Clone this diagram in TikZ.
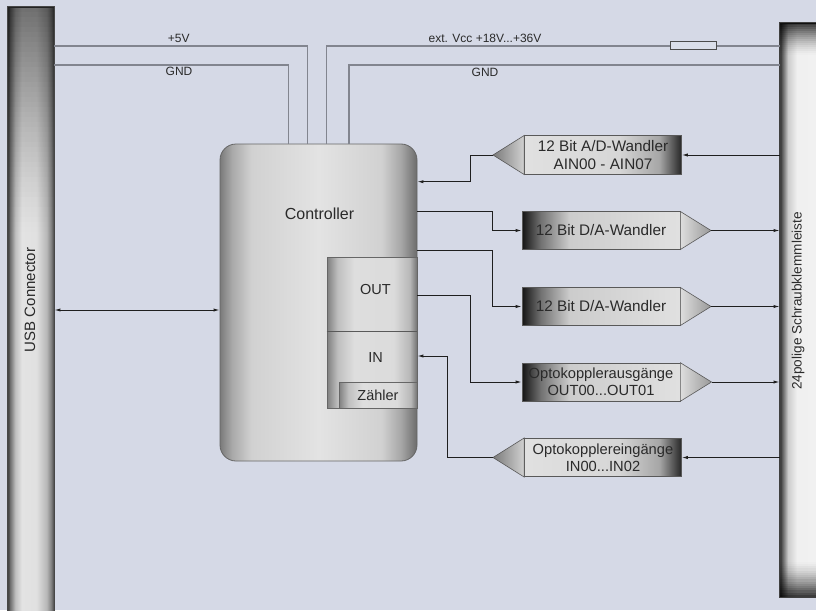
\documentclass[tikz,border=0pt]{standalone}
\usepackage{fontspec}
\setmainfont{Liberation Sans}
\usetikzlibrary{arrows.meta,calc}
\definecolor{bg}{HTML}{D5D9E6}
\definecolor{pwrc}{HTML}{82858F}
\definecolor{txt}{HTML}{2A2A2A}
\pgfdeclarehorizontalshading{ctrlshade}{100bp}{color(0bp)=(black!52); color(25bp)=(black!52); color(28bp)=(black!34); color(33bp)=(black!18); color(50bp)=(black!11); color(66bp)=(black!18); color(71bp)=(black!35); color(75bp)=(black!58); color(100bp)=(black!58)}
\pgfdeclarehorizontalshading{ioshade}{100bp}{color(0bp)=(black!50); color(25bp)=(black!50); color(31bp)=(black!25); color(40bp)=(black!13); color(62bp)=(black!14); color(71bp)=(black!28); color(75bp)=(black!55); color(100bp)=(black!55)}
\pgfdeclarehorizontalshading{lbarshade}{100bp}{color(0bp)=(black!78); color(25bp)=(black!78); color(27bp)=(black!58); color(33bp)=(black!25); color(40bp)=(black!11); color(56bp)=(black!12); color(67bp)=(black!28); color(72bp)=(black!50); color(75bp)=(black!72); color(100bp)=(black!72)}
\pgfdeclarehorizontalshading{rbarshade}{100bp}{color(0bp)=(black!82); color(25bp)=(black!82); color(27bp)=(black!65); color(33bp)=(black!20); color(42bp)=(black!6); color(75bp)=(black!5); color(100bp)=(black!5)}
\pgfdeclarehorizontalshading{outrectshade}{100bp}{color(0bp)=(black!92); color(25bp)=(black!92); color(31bp)=(black!55); color(40bp)=(black!20); color(75bp)=(black!12); color(100bp)=(black!12)}
\pgfdeclarehorizontalshading{inrectshade}{100bp}{color(0bp)=(black!12); color(25bp)=(black!12); color(55bp)=(black!16); color(68bp)=(black!35); color(75bp)=(black!85); color(100bp)=(black!85)}
\pgfdeclarehorizontalshading{outtrishade}{100bp}{color(0bp)=(black!13); color(25bp)=(black!13); color(75bp)=(black!40); color(100bp)=(black!40)}
\pgfdeclarehorizontalshading{intrishade}{100bp}{color(0bp)=(black!52); color(25bp)=(black!52); color(75bp)=(black!18); color(100bp)=(black!18)}
\tikzset{
  lbl/.style={font=\fontsize{12}{14}\selectfont, text=txt, inner sep=0pt},
  pwr/.style={draw=pwrc, line width=1.3pt},
  conn/.style={draw=black!88, line width=0.9pt},
  arr/.style={conn, -{Latex[length=6pt,width=3.2pt]}},
  darr/.style={conn, {Latex[length=6pt,width=3.2pt]}-{Latex[length=6pt,width=3.2pt]}},
  boxtxt/.style={font=\fontsize{15.3}{17.5}\selectfont, text=txt, align=center},
  optotxt/.style={font=\fontsize{14.7}{17.3}\selectfont},
  outrect/.style={draw=black!65, line width=0.6pt, shade, shading=outrectshade, minimum width=158pt, minimum height=37.5pt, inner sep=0pt, boxtxt},
  inrect/.style={draw=black!65, line width=0.6pt, shade, shading=inrectshade, minimum width=157pt, minimum height=38.5pt, inner sep=0pt, boxtxt},
  outtri/.style={draw=black!65, line width=0.6pt, shading=outtrishade},
  intri/.style={draw=black!65, line width=0.6pt, shading=intrishade},
}
\begin{document}
\begin{tikzpicture}[x=1pt,y=-1pt]
\useasboundingbox (0,0) rectangle (816,610);
\clip (0,0) rectangle (816,610);
\fill[bg] (0,0) rectangle (816,610);

% bars
\node[draw=black!72, line width=0.8pt, shade, shading=lbarshade, minimum width=46pt, minimum height=613pt, inner sep=0pt] (usb) at (31,313.5) {};
\foreach \i in {0,...,44} {
  \pgfmathsetmacro\op{0.5*(1-\i/45)^1.3}
  \fill[black, opacity=\op] (8,{7+\i*5}) rectangle (54,{12+\i*5});
}
\draw[black!72, line width=0.8pt] (usb.north west) rectangle (usb.south east);
\node[rotate=90, font=\fontsize{15}{17}\selectfont, text=txt, inner sep=0pt] (usbl) at (30,300) {USB Connector};

\node[draw=black!75, line width=0.8pt, shade, shading=rbarshade, minimum width=50pt, minimum height=574pt, inner sep=0pt] (rbar) at (805,310) {};
\foreach \i in {0,...,15} {
  \pgfmathsetmacro\op{0.75*(1-\i/16)^1.5}
  \fill[black, opacity=\op] (780,{23+\i*2}) rectangle (830,{25+\i*2});
  \fill[black, opacity=\op] (780,{597-\i*2.2}) rectangle (830,{594.8-\i*2.2});
}
\draw[black!75, line width=0.8pt] (rbar.north west) rectangle (rbar.south east);
\node[rotate=90, font=\fontsize{13.6}{16}\selectfont, text=txt, inner sep=0pt] (rbarl) at (798,301) {24polige Schraubklemmleiste};

% controller
\node[draw=black!60, line width=0.8pt, rounded corners=16pt, shade, shading=ctrlshade, minimum width=197pt, minimum height=317pt, inner sep=0pt] (ctrl) at (318.5,302.5) {};
\node[font=\fontsize{16}{18}\selectfont, text=txt] (ctrll) at (319.5,214) {Controller};
\node[draw=black!60, line width=0.7pt, shade, shading=ioshade, minimum width=90pt, minimum height=151pt, inner sep=0pt] (io) at (372,332.5) {};
\coordinate (div) at (0,331);
\draw[black!65, line width=0.7pt] (io.west |- div) -- (io.east |- div);
\node[font=\fontsize{14.5}{16}\selectfont, text=txt] (outl) at (375.5,290) {OUT};
\node[font=\fontsize{14.5}{16}\selectfont, text=txt] (inl) at (375.5,358) {IN};
\node[draw=black!60, line width=0.7pt, shade, shading=ioshade, minimum width=78pt, minimum height=26pt, inner sep=0pt, font=\fontsize{14.5}{16}\selectfont, text=txt] (zaehler) at (378,395) {Zähler};

% power lines
\coordinate (v5) at (307.3,46);
\coordinate (g1) at (288.3,65);
\coordinate (ve) at (326.3,46);
\coordinate (g2) at (349,65);
\draw[pwr] (usb.east |- v5) -| (v5 |- ctrl.north);
\draw[pwr] (usb.east |- g1) -| (g1 |- ctrl.north);
\draw[pwr] (rbar.west |- ve) -| (ve |- ctrl.north);
\draw[pwr] (rbar.west |- g2) -| (g2 |- ctrl.north);
\node[draw=black!70, fill=bg!85!white, line width=0.9pt, minimum width=46pt, minimum height=7.5pt, inner sep=0pt] (fuse) at (693,45.7) {};
\node[lbl] (l5v) at (178.8,38) {+5V};
\node[lbl] (lg1) at (179,71.7) {GND};
\node[lbl] (lve) at (485,38) {ext. Vcc +18V...+36V};
\node[lbl] (lg2) at (485,72) {GND};

% USB link
\coordinate (uy) at (0,310);
\draw[darr] (usb.east |- uy) -- (ctrl.west |- uy);

% A/D
\node[inrect] (ad) at (603,155) {12 Bit A/D-Wandler\\AIN00 - AIN07};
\coordinate (adtip) at (493,155);
\shadedraw[intri] (ad.north west) -- (adtip) -- (ad.south west) -- cycle;
\draw[arr] (rbar.west |- ad.east) -- (ad.east);
\coordinate (adb) at (470,181.7);
\draw[arr] (adtip) -| (adb) -- (ctrl.east |- adb);

% D/A 1
\node[outrect] (da1) at (601,230.5) {12 Bit D/A-Wandler};
\coordinate (da1tip) at (711,230.5);
\shadedraw[outtri] (da1.north east) -- (da1tip) -- (da1.south east) -- cycle;
\coordinate (d1b) at (492.7,211);
\draw[arr] (ctrl.east |- d1b) -- (d1b) |- (da1.west);
\draw[arr] (da1tip) -- (rbar.west |- da1tip);

% D/A 2
\node[outrect] (da2) at (601,306.5) {12 Bit D/A-Wandler};
\coordinate (da2tip) at (711,306.5);
\shadedraw[outtri] (da2.north east) -- (da2tip) -- (da2.south east) -- cycle;
\coordinate (d2b) at (492.7,250);
\draw[arr] (ctrl.east |- d2b) -- (d2b) |- (da2.west);
\draw[arr] (da2tip) -- (rbar.west |- da2tip);

% Opto out
\node[outrect, optotxt, minimum height=38pt] (oo) at (601,382) {Optokopplerausgänge\\OUT00...OUT01};
\coordinate (ootip) at (711.5,382);
\shadedraw[outtri] (oo.north east) -- (ootip) -- (oo.south east) -- cycle;
\coordinate (oob) at (470,295);
\draw[arr] (io.east |- oob) -- (oob) |- (oo.west);
\draw[arr] (ootip) -- (rbar.west |- ootip);

% Opto in
\node[inrect, optotxt] (oi) at (603,457.5) {Optokopplereingänge\\IN00...IN02};
\coordinate (oitip) at (493,457.5);
\shadedraw[intri] (oi.north west) -- (oitip) -- (oi.south west) -- cycle;
\draw[arr] (rbar.west |- oi.east) -- (oi.east);
\coordinate (oib) at (447,356);
\draw[arr] (oitip) -| (oib) -- (io.east |- oib);
\end{tikzpicture}
\end{document}
